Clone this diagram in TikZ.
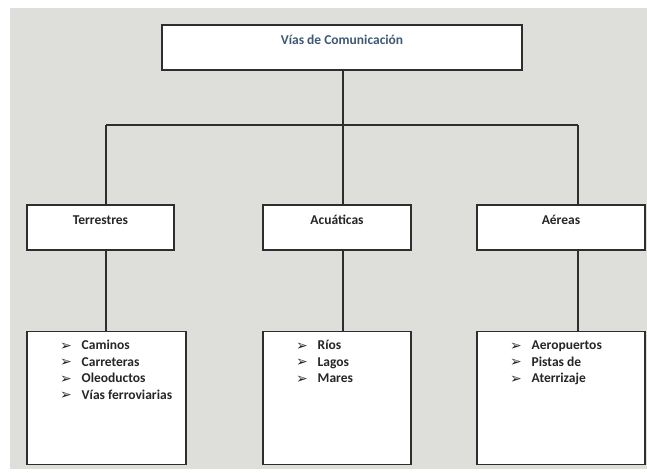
\documentclass[tikz,border=0pt]{standalone}
\usepackage{fontspec}
\setmainfont{Carlito}
\newfontfamily\symfont{DejaVu Sans}
\usetikzlibrary{positioning}
\definecolor{fondo}{HTML}{DEDEDA}
\definecolor{titulo}{HTML}{3E5878}
\definecolor{borde}{HTML}{2E2E2E}
\tikzstyle{rama} = [rectangle, draw=borde, fill=white, line width=1.2pt, minimum height=45pt, text height=9pt, text depth=16pt, inner sep=0pt, text=black!85, font=\fontsize{13.5}{16.5}\selectfont\bfseries]
\tikzstyle{lista} = [rectangle, draw=borde, fill=white, line width=1.2pt, inner sep=0pt, text=black!85, font=\fontsize{13.5}{16.5}\selectfont\bfseries]
\tikzstyle{conector} = [draw=borde, line width=1.1pt]
\newcommand{\flecha}{{\symfont\fontsize{14}{14}\selectfont\raisebox{-0.5pt}{➢}}}
\newcommand{\items}[2]{\parbox[c][133pt][t]{#1}{\vspace*{7pt}\hspace*{33pt}\begin{tabular}[t]{@{}l@{\hspace{10pt}}l@{}}#2\end{tabular}}}

\begin{document}
\begin{tikzpicture}[x=1pt, y=-1pt]
	\useasboundingbox (0,0) rectangle (647,472);
	\fill[fondo] (10,8) rectangle (647,469);
	
	\node[rama, minimum width=360pt, text=titulo] (vias) at (342,47.5) {Vías de Comunicación};
	
	\node[rama, minimum width=147pt] (terr) at (100.5,227.5) {Terrestres};
	\node[rama, minimum width=148pt] (acua) at (337,227.5) {Acuáticas};
	\node[rama, minimum width=168pt] (aere) at (561,227.5) {Aéreas};
	
	\node[lista, below=80pt of terr.south west, anchor=north west] (lstT) {\items{159pt}{\flecha & Caminos\\ \flecha & Carreteras\\ \flecha & Oleoductos\\ \flecha & Vías ferroviarias}};
	\node[lista, below=80pt of acua.south west, anchor=north west] (lstA) {\items{148pt}{\flecha & Ríos\\ \flecha & Lagos\\ \flecha & Mares}};
	\node[lista, below=80pt of aere.south west, anchor=north west] (lstE) {\items{168pt}{\flecha & Aeropuertos\\ \flecha & Pistas de\\ \flecha & Aterrizaje}};
	
	%conectores
	\coordinate (cT) at (106,125);
	\coordinate (cA) at (343,125);
	\coordinate (cE) at (578,125);
	\draw[conector] (vias.south -| cA) -- (cA);
	\draw[conector] (cT) -- (cE);
	\draw[conector] (cT) -- (cT |- terr.north);
	\draw[conector] (cA) -- (cA |- acua.north);
	\draw[conector] (cE) -- (cE |- aere.north);
	\draw[conector] (terr.south -| cT) -- (lstT.north -| cT);
	\draw[conector] (acua.south -| cA) -- (lstA.north -| cA);
	\draw[conector] (aere.south -| cE) -- (lstE.north -| cE);
\end{tikzpicture}
\end{document}
